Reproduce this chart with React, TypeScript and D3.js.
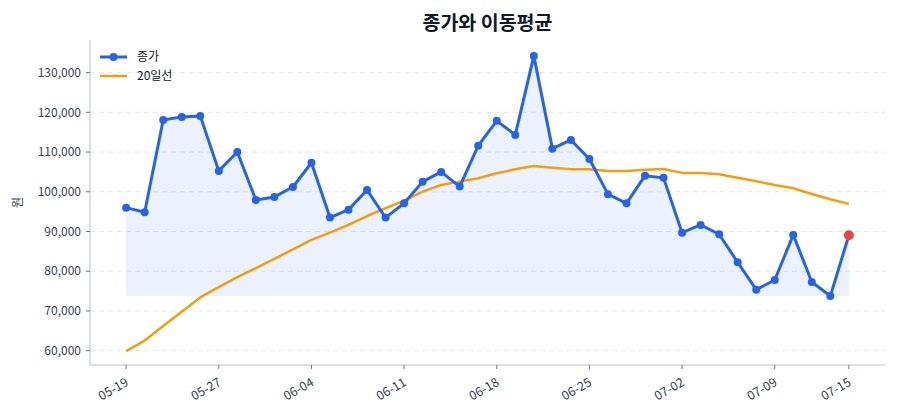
import { useEffect, useRef } from "react";
import * as d3 from "d3";

// trading days shown on the x axis
const dates = [
  "05-19", "05-20", "05-21", "05-22", "05-23", "05-27", "05-28", "05-29", "05-30", "06-02",
  "06-04", "06-05", "06-06", "06-09", "06-10", "06-11", "06-12", "06-13", "06-16", "06-17",
  "06-18", "06-19", "06-20", "06-23", "06-24", "06-25", "06-26", "06-27", "06-30", "07-01",
  "07-02", "07-03", "07-04", "07-07", "07-08", "07-09", "07-10", "07-11", "07-14", "07-15",
];

// closing price (원)
const closePrice = [
  96000, 94850, 118050, 118850, 119100, 105250, 110000, 97950, 98700, 101200,
  107300, 93500, 95500, 100450, 93500, 97100, 102550, 105000, 101300, 111600,
  117850, 114300, 134200, 110850, 113050, 108250, 99400, 97100, 104050, 103500,
  89700, 91650, 89300, 82250, 75350, 77800, 89150, 77300, 73750, 89050,
];

// 20-day moving average
const ma20 = [
  59900, 62550, 66200, 69800, 73400, 76000, 78500, 80800, 83100, 85500,
  87900, 89700, 91650, 93900, 95850, 97750, 100050, 101700, 102550, 103400,
  104650, 105650, 106500, 106050, 105700, 105650, 105250, 105250, 105550, 105750,
  104750, 104750, 104400, 103550, 102650, 101700, 100900, 99450, 98100, 96950,
];

const yTicks = [60000, 70000, 80000, 90000, 100000, 110000, 120000, 130000];
const xTickLabels = ["05-19", "05-27", "06-04", "06-11", "06-18", "06-25", "07-02", "07-09", "07-15"];

const W = 900;
const H = 420;
const FONT = "'Noto Sans CJK KR', 'Noto Sans', sans-serif";

export default function App() {
  const svgRef = useRef<SVGSVGElement>(null);

  useEffect(() => {
    document.body.style.margin = "0";
    const el = svgRef.current;
    if (!el) return;
    d3.select(el).selectAll("*").remove();

    const svg = d3.select(el).attr("width", W).attr("height", H).attr("viewBox", `0 0 ${W} ${H}`);

    const left = 90, right = 885, top = 40, bottom = 365;
    const n = closePrice.length;
    const pad = (n - 1) * 0.05;
    const x = d3.scaleLinear().domain([-pad, n - 1 + pad]).range([left, right]);
    const y = d3.scaleLinear().domain([56400, 138200]).range([bottom, top]);

    // grid
    svg
      .append("g")
      .selectAll("line")
      .data(yTicks)
      .join("line")
      .attr("x1", left)
      .attr("x2", right)
      .attr("y1", (d) => y(d))
      .attr("y2", (d) => y(d))
      .attr("stroke", "#e5e7eb")
      .attr("stroke-width", 1)
      .attr("stroke-dasharray", "5,4");

    // fill under close down to its minimum
    const minClose = d3.min(closePrice) as number;
    const area = d3
      .area<number>()
      .x((_, i) => x(i))
      .y0(y(minClose))
      .y1((d) => y(d));
    svg.append("path").datum(closePrice).attr("d", area).attr("fill", "#2563eb").attr("fill-opacity", 0.09);

    // 20일선
    const line = d3
      .line<number>()
      .x((_, i) => x(i))
      .y((d) => y(d));
    svg
      .append("path")
      .datum(ma20)
      .attr("d", line)
      .attr("fill", "none")
      .attr("stroke", "#f59e0b")
      .attr("stroke-width", 2.5)
      .attr("stroke-linejoin", "round");

    // close
    svg
      .append("path")
      .datum(closePrice)
      .attr("d", line)
      .attr("fill", "none")
      .attr("stroke", "#2563eb")
      .attr("stroke-width", 3)
      .attr("stroke-linejoin", "round");

    svg
      .append("g")
      .selectAll("circle")
      .data(closePrice)
      .join("circle")
      .attr("cx", (_, i) => x(i))
      .attr("cy", (d) => y(d))
      .attr("r", 4)
      .attr("fill", "#2563eb");

    // latest close highlighted
    svg
      .append("circle")
      .attr("cx", x(n - 1))
      .attr("cy", y(closePrice[n - 1]))
      .attr("r", 5)
      .attr("fill", "#ef4444");

    // spines
    svg.append("line").attr("x1", left).attr("x2", left).attr("y1", top).attr("y2", bottom).attr("stroke", "#d1d5db").attr("stroke-width", 1.5);
    svg.append("line").attr("x1", left).attr("x2", right).attr("y1", bottom).attr("y2", bottom).attr("stroke", "#d1d5db").attr("stroke-width", 1.5);

    // y ticks
    const fmt = d3.format(",");
    const yt = svg.append("g").selectAll("g").data(yTicks).join("g").attr("transform", (d) => `translate(${left},${y(d)})`);
    yt.append("line").attr("x1", -4).attr("x2", 0).attr("stroke", "#6b7280").attr("stroke-width", 1);
    yt.append("text")
      .attr("x", -9)
      .attr("dy", "0.35em")
      .attr("text-anchor", "end")
      .attr("font-family", FONT)
      .attr("font-size", 12)
      .attr("fill", "#374151")
      .text((d) => fmt(d));

    // x ticks
    const xt = svg
      .append("g")
      .selectAll("g")
      .data(xTickLabels)
      .join("g")
      .attr("transform", (d) => `translate(${x(dates.indexOf(d))},${bottom})`);
    xt.append("line").attr("y1", 0).attr("y2", 4).attr("stroke", "#6b7280").attr("stroke-width", 1);
    xt.append("text")
      .attr("transform", "translate(1,16) rotate(-30)")
      .attr("dy", "0.35em")
      .attr("text-anchor", "end")
      .attr("font-family", FONT)
      .attr("font-size", 12.5)
      .attr("fill", "#374151")
      .text((d) => d);

    // y label
    svg
      .append("text")
      .attr("transform", `translate(22,${(top + bottom) / 2}) rotate(-90)`)
      .attr("text-anchor", "middle")
      .attr("font-family", FONT)
      .attr("font-size", 12.5)
      .attr("fill", "#374151")
      .text("원");

    // title
    svg
      .append("text")
      .attr("x", (left + right) / 2)
      .attr("y", 30)
      .attr("text-anchor", "middle")
      .attr("font-family", FONT)
      .attr("font-size", 19.5)
      .attr("font-weight", 700)
      .attr("fill", "#111827")
      .text("종가와 이동평균");

    // legend
    const lg = svg.append("g").attr("transform", "translate(100,57)");
    lg.append("line").attr("x1", 0).attr("x2", 27).attr("stroke", "#2563eb").attr("stroke-width", 3);
    lg.append("circle").attr("cx", 13.5).attr("r", 4).attr("fill", "#2563eb");
    lg.append("text").attr("x", 37).attr("dy", "0.35em").attr("font-family", FONT).attr("font-size", 12).attr("fill", "#111827").text("종가");
    lg.append("line").attr("x1", 0).attr("x2", 27).attr("y1", 19).attr("y2", 19).attr("stroke", "#f59e0b").attr("stroke-width", 2.5);
    lg.append("text").attr("x", 37).attr("y", 19).attr("dy", "0.35em").attr("font-family", FONT).attr("font-size", 12).attr("fill", "#111827").text("20일선");
  }, []);

  return <svg ref={svgRef} style={{ display: "block" }} />;
}
